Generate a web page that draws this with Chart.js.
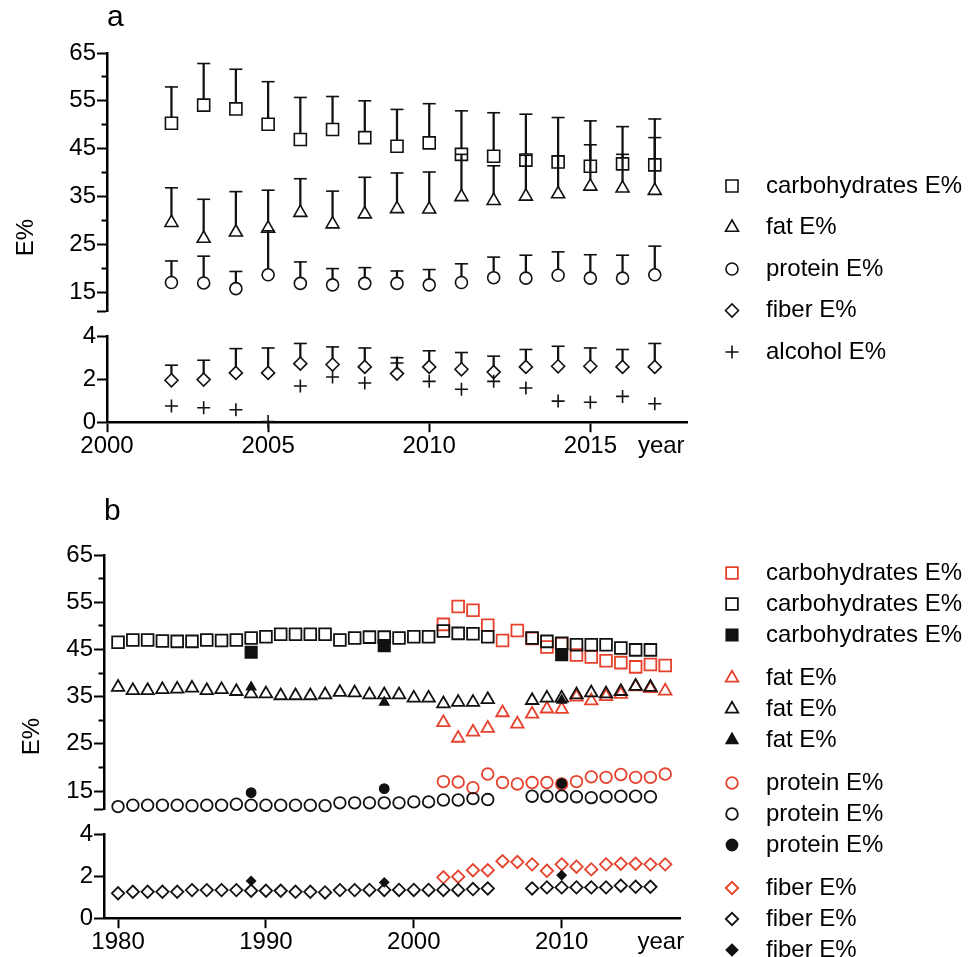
<!DOCTYPE html>
<html>
<head>
<meta charset="utf-8">
<script src="https://cdn.jsdelivr.net/npm/chart.js@4.4.1/dist/chart.umd.min.js"></script>
<style>
  html, body { margin: 0; padding: 0; background: #fff; }
  #wrap { position: relative; width: 977px; height: 957px; }
  canvas { position: absolute; left: 0; }
  #chartA { top: 0; }
  #chartB { top: 480px; }
</style>
</head>
<body>
<div id="wrap">
  <canvas id="chartA" width="977" height="480"></canvas>
  <canvas id="chartB" width="977" height="477"></canvas>
</div>
<script>
const FONT = '"Liberation Sans", Arial, sans-serif';
const INK = '#111';
const RED = '#e5412c';

// ---- panel a: yearly means with +SD ----
const yearsA = [2002, 2003, 2004, 2005, 2006, 2007, 2008, 2009, 2010, 2011, 2012, 2013, 2014, 2015, 2016, 2017];
const carbA = [50.3, 54.1, 53.3, 50.1, 46.9, 49.0, 47.3, 45.5, 46.2, 43.8, 43.4, 42.6, 42.2, 41.3, 41.8, 41.6];
const carbSdA = [7.6, 8.7, 8.3, 8.9, 8.8, 6.9, 7.7, 7.7, 8.2, 9.1, 9.1, 9.6, 9.3, 9.5, 7.8, 9.6];
const fatA = [29.5, 26.2, 27.5, 28.3, 31.6, 29.2, 31.3, 32.4, 32.3, 34.9, 34.1, 35.0, 35.5, 37.1, 36.7, 36.2];
const fatSdA = [7.3, 8.2, 8.5, 8.0, 7.1, 6.9, 7.7, 7.5, 7.8, 8.9, 7.3, 8.6, 8.0, 8.7, 7.1, 11.1];
const proteinA = [17.0, 16.9, 15.7, 18.6, 16.8, 16.5, 16.8, 16.8, 16.5, 17.0, 18.0, 17.9, 18.5, 17.9, 17.9, 18.6];
const proteinSdA = [4.5, 5.6, 3.6, 9.2, 4.5, 3.4, 3.3, 2.6, 3.2, 3.9, 4.3, 4.8, 4.9, 4.9, 4.8, 6.0];
const fiberA = [1.95, 1.98, 2.29, 2.29, 2.72, 2.68, 2.57, 2.26, 2.57, 2.46, 2.33, 2.57, 2.60, 2.60, 2.57, 2.57];
const fiberSdA = [0.70, 0.90, 1.13, 1.16, 0.94, 0.82, 0.88, 0.74, 0.75, 0.78, 0.74, 0.81, 0.93, 0.85, 0.81, 1.09];
const alcoholA = [0.75, 0.67, 0.58, 0.03, 1.68, 2.10, 1.82, 2.75, 1.90, 1.53, 1.90, 1.59, 0.98, 0.93, 1.20, 0.86];

// ---- panel b: older survey series (gap 2006-2007) and three reference points ----
const yearsB = [1980, 1981, 1982, 1983, 1984, 1985, 1986, 1987, 1988, 1989, 1990, 1991, 1992, 1993, 1994, 1995,
  1996, 1997, 1998, 1999, 2000, 2001, 2002, 2003, 2004, 2005, 2006, 2007, 2008, 2009, 2010, 2011, 2012, 2013,
  2014, 2015, 2016];
const carbB = [46.5, 47.0, 47.0, 46.8, 46.7, 46.7, 47.0, 46.9, 47.0, 47.4, 47.7, 48.2, 48.2, 48.2, 48.2, 47.0,
  47.4, 47.6, 47.6, 47.4, 47.7, 47.7, 48.9, 48.4, 48.3, 47.7, null, null, 47.4, 46.7, 46.3, 46.0, 46.0, 46.0,
  45.3, 44.9, 44.9];
const fatB = [37.0, 36.3, 36.3, 36.5, 36.6, 36.8, 36.3, 36.5, 36.1, 35.6, 35.6, 35.2, 35.2, 35.2, 35.4, 35.9,
  35.8, 35.4, 35.4, 35.4, 34.7, 34.7, 33.5, 33.8, 33.8, 34.4, null, null, 34.2, 34.7, 34.7, 35.4, 35.8, 35.6,
  36.1, 37.2, 37.0];
const proteinB = [11.7, 12.0, 12.0, 12.0, 12.0, 11.9, 12.0, 12.0, 12.2, 12.0, 12.0, 12.0, 12.0, 12.0, 11.9, 12.5,
  12.5, 12.5, 12.5, 12.5, 12.7, 12.7, 13.1, 13.1, 13.4, 13.2, null, null, 13.9, 13.9, 13.9, 13.8, 13.6, 13.8,
  13.9, 13.9, 13.8];
const fiberB = [1.19, 1.26, 1.26, 1.26, 1.26, 1.34, 1.34, 1.34, 1.34, 1.31, 1.31, 1.31, 1.26, 1.26, 1.23, 1.34,
  1.34, 1.35, 1.35, 1.35, 1.35, 1.35, 1.35, 1.35, 1.39, 1.42, null, null, 1.42, 1.47, 1.47, 1.47, 1.47, 1.47,
  1.55, 1.50, 1.50];
const yearsRef = [1989, 1998, 2010];
const carbRef = [44.4, 45.8, 43.9];
const fatRef = [37.0, 33.8, 34.2];
const proteinRef = [14.65, 15.5, 16.6];
const fiberRef = [1.78, 1.71, 2.05];

// ---- axis ticks ----
const xTicksA = [2000, 2005, 2010, 2015];
const xTicksB = [1980, 1990, 2000, 2010];
const yearPosA = 2017.2;
const yearPosB = 2016.7;
const hiTicks = [15, 20, 25, 30, 35, 40, 45, 50, 55, 60, 65];
const loTicks = [0, 2, 4];

const pts = (xs, ys) => xs.map((x, i) => ({ x, y: ys[i] }));

function withSd(label, ys, sds, style, r, axis) {
  const tops = ys.map((v, i) => v + sds[i]);
  return [
    { type: 'bar', data: yearsA.map((x, i) => ({ x, y: [ys[i], tops[i]] })), yAxisID: axis,
      backgroundColor: INK, borderWidth: 0, barThickness: 1.6, grouped: false },
    { type: 'scatter', data: pts(yearsA, tops), yAxisID: axis, pointStyle: 'line', pointRadius: 6.5,
      borderColor: INK, borderWidth: 1.6 },
    { type: 'scatter', data: pts(yearsA, ys), yAxisID: axis, pointStyle: style, pointRadius: r,
      borderColor: INK, backgroundColor: '#fff', borderWidth: 1.6, legendText: label },
  ];
}

function dots(label, xs, ys, axis, style, r, color, filled, group, legendRadius) {
  return { type: 'scatter', data: pts(xs, ys), yAxisID: axis, pointStyle: style, pointRadius: r,
    borderColor: color, backgroundColor: filled ? color : 'rgba(0,0,0,0)', borderWidth: 1.8,
    legendText: label, legendGroup: group, legendRadius };
}

// later datasets get drawn over earlier ones
function stackOrder(list) {
  list.forEach((d, i) => { d.order = list.length - i; d.clip = false; });
  return list;
}

const sideLegend = {
  id: 'sideLegend',
  afterDraw(chart, args, opts) {
    const ctx = chart.ctx;
    let y = opts.top;
    let prev;
    ctx.save();
    ctx.font = opts.size + 'px ' + FONT;
    ctx.textBaseline = 'middle';
    ctx.textAlign = 'left';
    chart.data.datasets.forEach(d => {
      if (!d.legendText) return;
      if (prev !== undefined && d.legendGroup !== prev) y += opts.groupGap;
      prev = d.legendGroup;
      ctx.strokeStyle = d.borderColor;
      ctx.fillStyle = d.backgroundColor;
      ctx.lineWidth = d.borderWidth;
      Chart.helpers.drawPoint(ctx, { pointStyle: d.pointStyle, rotation: 0,
        radius: d.legendRadius || d.pointRadius, borderWidth: d.borderWidth }, opts.symbolX, y);
      ctx.fillStyle = '#000';
      ctx.fillText(d.legendText, opts.textX, y);
      y += opts.rowHeight;
    });
    ctx.restore();
  }
};

function scales(xMin, xMax, xTicks, yearAt, hiMin, weights) {
  const tickFont = { family: FONT, size: 24 };
  const axisGrid = { drawOnChartArea: false, tickLength: 10, tickWidth: 2, tickColor: '#000' };
  return {
    x: {
      type: 'linear', min: xMin, max: xMax, offset: false,
      border: { color: '#000', width: 2.5 },
      grid: { ...axisGrid, offset: false,
        tickColor: c => (c.tick && c.tick.value === yearAt ? 'rgba(0,0,0,0)' : '#000') },
      afterBuildTicks: s => { s.ticks = xTicks.concat(yearAt).map(value => ({ value })); },
      ticks: { autoSkip: false, maxRotation: 0, padding: 0, font: tickFont, color: '#000',
        callback: v => (v === yearAt ? 'year' : String(v)) },
    },
    yHi: {
      type: 'linear', position: 'left', stack: 'v', stackWeight: weights[0], weight: 3,
      min: hiMin, max: 65, beginAtZero: false,
      border: { color: '#000', width: 2.5 },
      grid: { ...axisGrid,
        tickBorderDash: c => (c.tick && c.tick.value % 10 === 0 ? [0, 4.5, 20, 100] : []) },
      afterBuildTicks: s => { s.ticks = [hiMin].concat(hiTicks).map(value => ({ value })); },
      afterFit: s => { s.width = 48; },
      ticks: { autoSkip: false, padding: 1, font: tickFont, color: '#000',
        callback: v => (v % 10 === 5 ? String(v) : '') },
    },
    yGap: { type: 'linear', position: 'left', stack: 'v', stackWeight: weights[1], weight: 2, display: false },
    yLo: {
      type: 'linear', position: 'left', stack: 'v', stackWeight: weights[2], weight: 1,
      min: 0, max: 4, beginAtZero: true,
      border: { color: '#000', width: 2.5 },
      grid: axisGrid,
      afterBuildTicks: s => { s.ticks = loTicks.map(value => ({ value })); },
      afterFit: s => { s.width = 48; },
      ticks: { autoSkip: false, padding: 1, font: tickFont, color: '#000', callback: v => String(v) },
    },
  };
}

function baseOptions(letter, sc, pad, titlePad, letterPad, legend) {
  return {
    responsive: false, animation: false, devicePixelRatio: 1, events: [],
    layout: { padding: pad },
    scales: sc,
    plugins: {
      legend: { display: false },
      tooltip: { enabled: false },
      title: { display: true, text: 'E%', position: 'left', fullSize: false, color: '#000',
        font: { family: FONT, size: 24, weight: 'normal' }, padding: titlePad },
      subtitle: { display: true, text: letter, position: 'top', align: 'start', fullSize: false, color: '#000',
        font: { family: FONT, size: 30, weight: 'normal' }, padding: letterPad },
      sideLegend: legend,
    },
  };
}

const dataA = stackOrder([
  ...withSd('carbohydrates E%', carbA, carbSdA, 'rect', 8.5, 'yHi'),
  ...withSd('fat E%', fatA, fatSdA, 'triangle', 7.5, 'yHi'),
  ...withSd('protein E%', proteinA, proteinSdA, 'circle', 6, 'yHi'),
  ...withSd('fiber E%', fiberA, fiberSdA, 'rectRot', 6.5, 'yLo'),
  { type: 'scatter', data: pts(yearsA, alcoholA), yAxisID: 'yLo', pointStyle: 'cross', pointRadius: 6.5,
    borderColor: INK, backgroundColor: INK, borderWidth: 1.6, legendText: 'alcohol E%' },
]);

new Chart(document.getElementById('chartA'), {
  type: 'scatter',
  data: { datasets: dataA },
  options: baseOptions('a', scales(2000, 2018, xTicksA, yearPosA, 11, [258, 25, 86]),
    { left: 0, right: 290, top: 0, bottom: 19 },
    { top: 12, bottom: 18.2 }, { top: 0, bottom: 17 },
    { top: 186, rowHeight: 41.5, groupGap: 0, symbolX: 732, textX: 766, size: 24 }),
  plugins: [sideLegend],
});

const dataB = stackOrder([
  dots('carbohydrates E%', yearsA, carbA, 'yHi', 'rect', 8.3, RED, false, 'c'),
  dots('carbohydrates E%', yearsB, carbB, 'yHi', 'rect', 8.3, INK, false, 'c'),
  dots('carbohydrates E%', yearsRef, carbRef, 'yHi', 'rect', 8, INK, true, 'c'),
  dots('fat E%', yearsA, fatA, 'yHi', 'triangle', 7.2, RED, false, 'f'),
  dots('fat E%', yearsB, fatB, 'yHi', 'triangle', 7.2, INK, false, 'f'),
  dots('fat E%', yearsRef, fatRef, 'yHi', 'triangle', 5, INK, true, 'f', 6.5),
  dots('protein E%', yearsA, proteinA, 'yHi', 'circle', 5.8, RED, false, 'p'),
  dots('protein E%', yearsB, proteinB, 'yHi', 'circle', 5.8, INK, false, 'p'),
  dots('protein E%', yearsRef, proteinRef, 'yHi', 'circle', 4.5, INK, true, 'p', 5.5),
  dots('fiber E%', yearsA, fiberA, 'yLo', 'rectRot', 6.2, RED, false, 'd'),
  dots('fiber E%', yearsB, fiberB, 'yLo', 'rectRot', 6.2, INK, false, 'd'),
  dots('fiber E%', yearsRef, fiberRef, 'yLo', 'rectRot', 4.2, INK, true, 'd', 5.5),
]);

new Chart(document.getElementById('chartB'), {
  type: 'scatter',
  data: { datasets: dataB },
  options: baseOptions('b', scales(1979.05, 2018, xTicksB, yearPosB, 11.1, [255, 25, 84]),
    { left: 0, right: 297, top: 0, bottom: 0 },
    { top: 18, bottom: 9.2 }, { top: 14, bottom: 25 },
    { top: 93, rowHeight: 31, groupGap: 12, symbolX: 732, textX: 766, size: 24 }),
  plugins: [sideLegend],
});
</script>
</body>
</html>
